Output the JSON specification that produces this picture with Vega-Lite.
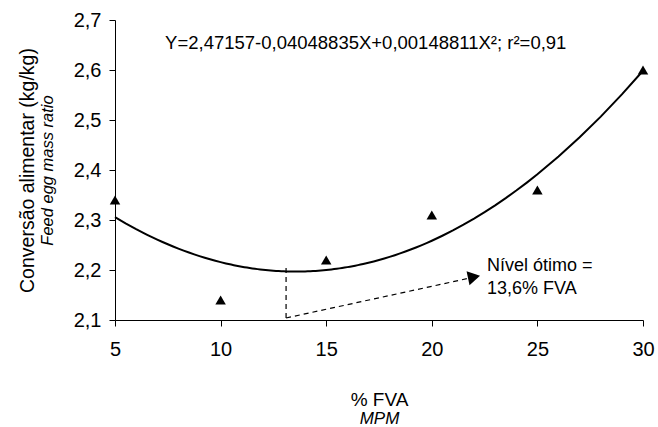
{
  "$schema": "https://vega.github.io/schema/vega-lite/v6.json",
  "width": 528,
  "height": 300,
  "autosize": "none",
  "padding": {"left": 115, "top": 20, "right": 15, "bottom": 107},
  "background": "white",
  "config": {
    "view": {"stroke": null},
    "font": "Liberation Sans",
    "axis": {
      "domainColor": "black",
      "tickColor": "black",
      "labelColor": "black",
      "titleColor": "black",
      "labelFont": "Liberation Sans",
      "titleFont": "Liberation Sans",
      "titleFontWeight": "normal",
      "grid": false,
      "tickSize": 6,
      "domainWidth": 1,
      "tickWidth": 1
    }
  },
  "datasets": {
    "obs": [
      {"x": 5, "y": 2.34},
      {"x": 10, "y": 2.14},
      {"x": 15, "y": 2.22},
      {"x": 20, "y": 2.31},
      {"x": 25, "y": 2.36},
      {"x": 30, "y": 2.60}
    ],
    "dash": [
      {"x": 13.1, "y": 2.104, "x2": 13.1, "y2": 2.208},
      {"x": 13.1, "y": 2.104, "x2": 21.7, "y2": 2.183}
    ],
    "head": [{"x": 22.0, "y": 2.186}],
    "eq": [{"x": 7.37, "y": 2.654, "t": "Y=2,47157-0,04048835X+0,00148811X²; r²=0,91"}],
    "note": [
      {"x": 22.61, "y": 2.208, "t": "Nível ótimo ="},
      {"x": 22.61, "y": 2.162, "t": "13,6% FVA"}
    ]
  },
  "resolve": {"axis": {"x": "independent", "y": "independent"}},
  "layer": [
    {
      "data": {"name": "obs"},
      "mark": {"type": "point", "shape": "triangle-up", "filled": true, "color": "black", "size": 110, "opacity": 1},
      "encoding": {
        "x": {
          "field": "x", "type": "quantitative",
          "scale": {"domain": [5, 30], "nice": false, "zero": false},
          "axis": {
            "orient": "bottom", "values": [5, 10, 15, 20, 25, 30],
            "labelFontSize": 20, "labelPadding": 13, "labelFlush": false,
            "title": "% FVA", "titleFontSize": 19, "titlePadding": 31
          }
        },
        "y": {
          "field": "y", "type": "quantitative",
          "scale": {"domain": [2.1, 2.7], "nice": false, "zero": false},
          "axis": {
            "orient": "left", "values": [2.1, 2.2, 2.3, 2.4, 2.5, 2.6, 2.7],
            "labelExpr": "replace(format(datum.value, '.1f'), '.', ',')",
            "labelFontSize": 20, "labelPadding": 8, "labelFlush": false,
            "title": "Conversão  alimentar  (kg/kg)", "titleFontSize": 19.5, "titlePadding": 36
          }
        }
      }
    },
    {
      "data": {"name": "obs"},
      "transform": [{"regression": "y", "on": "x", "method": "poly", "order": 2}],
      "mark": {"type": "line", "color": "black", "strokeWidth": 2},
      "encoding": {
        "x": {
          "field": "x", "type": "quantitative",
          "axis": {
            "orient": "bottom", "labels": false, "ticks": false, "domain": false,
            "title": "MPM", "titleFontSize": 17, "titleFontStyle": "italic", "titlePadding": 90
          }
        },
        "y": {
          "field": "y", "type": "quantitative",
          "axis": {
            "orient": "left", "labels": false, "ticks": false, "domain": false,
            "title": "Feed egg mass ratio", "titleFontSize": 16.5, "titleFontStyle": "italic", "titlePadding": 60
          }
        }
      }
    },
    {
      "data": {"name": "dash"},
      "mark": {"type": "rule", "color": "black", "strokeWidth": 1.2, "strokeDash": [5, 4]},
      "encoding": {
        "x": {"field": "x", "type": "quantitative", "axis": null},
        "y": {"field": "y", "type": "quantitative", "axis": null},
        "x2": {"field": "x2"},
        "y2": {"field": "y2"}
      }
    },
    {
      "data": {"name": "head"},
      "mark": {"type": "point", "shape": "triangle-right", "filled": true, "color": "black", "size": 200, "angle": -12, "opacity": 1},
      "encoding": {
        "x": {"field": "x", "type": "quantitative", "axis": null},
        "y": {"field": "y", "type": "quantitative", "axis": null}
      }
    },
    {
      "data": {"name": "eq"},
      "mark": {"type": "text", "align": "left", "baseline": "middle", "fontSize": 18.5, "color": "black", "font": "Liberation Sans"},
      "encoding": {
        "x": {"field": "x", "type": "quantitative", "axis": null},
        "y": {"field": "y", "type": "quantitative", "axis": null},
        "text": {"field": "t"}
      }
    },
    {
      "data": {"name": "note"},
      "mark": {"type": "text", "align": "left", "baseline": "middle", "fontSize": 18, "color": "black", "font": "Liberation Sans"},
      "encoding": {
        "x": {"field": "x", "type": "quantitative", "axis": null},
        "y": {"field": "y", "type": "quantitative", "axis": null},
        "text": {"field": "t"}
      }
    }
  ]
}
